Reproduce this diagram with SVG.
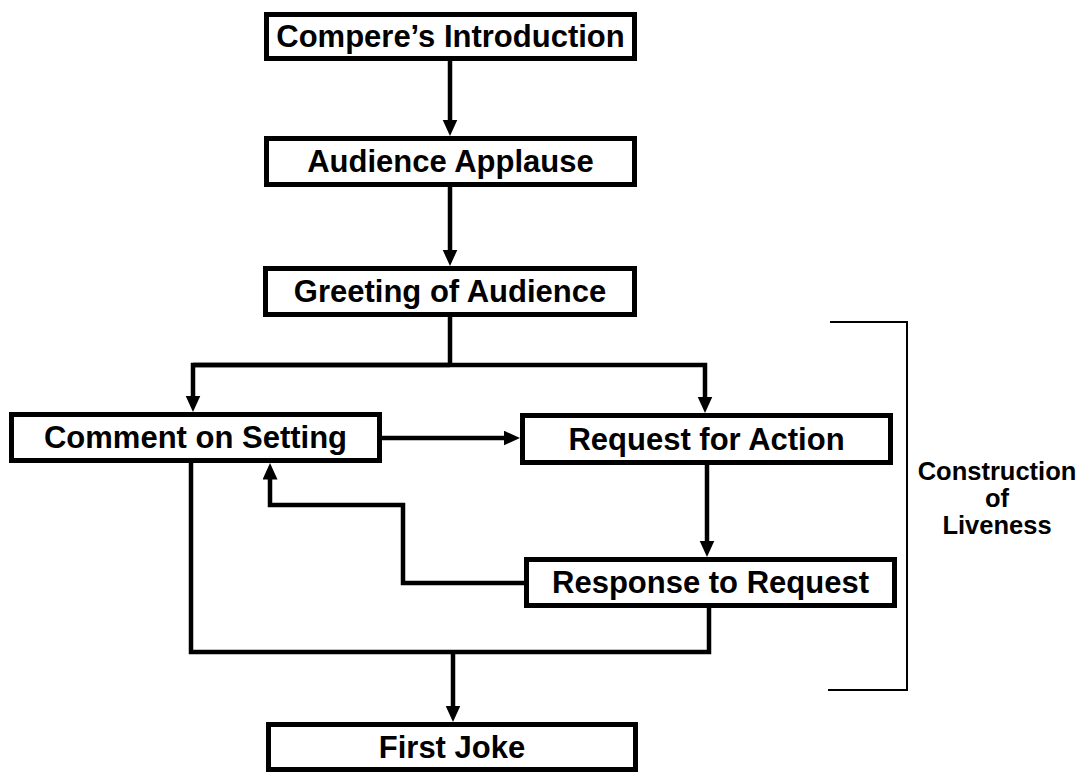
<svg xmlns="http://www.w3.org/2000/svg" width="1085" height="772" viewBox="0 0 1085 772">
  <style>
    .box { fill: #fff; stroke: #000; stroke-width: 5; }
    .lbl { font-family: "Liberation Sans", Arial, sans-serif; font-weight: bold; font-size: 31px; fill: #000; text-anchor: middle; }
    .side { font-family: "Liberation Sans", Arial, sans-serif; font-weight: bold; font-size: 25.5px; fill: #000; text-anchor: middle; }
    .conn { fill: none; stroke: #000; stroke-width: 4.5; stroke-linejoin: miter; }
    .arr { marker-end: url(#ah); }
    .brk { fill: none; stroke: #000; stroke-width: 2; }
  </style>
  <defs>
    <marker id="ah" markerUnits="userSpaceOnUse" markerWidth="18" markerHeight="16" refX="6" refY="7.5" orient="auto">
      <path d="M0,0 L16.5,7.5 L0,15 Z" fill="#000"/>
    </marker>
  </defs>
  <rect width="1085" height="772" fill="#fff"/>

  <g id="connectors">
    <path class="conn arr" d="M450,61 V125.5"/>
    <path class="conn arr" d="M450,187 V255.5"/>
    <path class="conn" d="M450,317 V365"/>
    <path class="conn arr" d="M193,365 H705 V402.5"/>
    <path class="conn arr" d="M450,365 H193 V401.5"/>
    <path class="conn arr" d="M382,438 H509.5"/>
    <path class="conn arr" d="M707,465 V546.5"/>
    <path class="conn arr" d="M524,583 H403 V505 H270 V473.5"/>
    <path class="conn" d="M191,463 V652 H709 V608"/>
    <path class="conn arr" d="M453,652 V711.5"/>
  </g>

  <g id="bracket">
    <polyline class="brk" points="830,322 907,322 907,690 828,690"/>
    <text class="side" x="997" y="480">Construction</text>
    <text class="side" x="997" y="507">of</text>
    <text class="side" x="997" y="534">Liveness</text>
  </g>

  <g id="n-compere">
    <rect class="box" x="266.5" y="14.5" width="368" height="44"/>
    <text class="lbl" x="450.5" y="47">Compere’s Introduction</text>
  </g>
  <g id="n-applause">
    <rect class="box" x="266.5" y="138.5" width="368" height="46"/>
    <text class="lbl" x="450.5" y="172">Audience Applause</text>
  </g>
  <g id="n-greeting">
    <rect class="box" x="265.5" y="268.5" width="369" height="46"/>
    <text class="lbl" x="450" y="302">Greeting of Audience</text>
  </g>
  <g id="n-comment">
    <rect class="box" x="11.5" y="414.5" width="368" height="46"/>
    <text class="lbl" x="195.5" y="448">Comment on Setting</text>
  </g>
  <g id="n-request">
    <rect class="box" x="522.5" y="415.5" width="368" height="47"/>
    <text class="lbl" x="706.5" y="450">Request for Action</text>
  </g>
  <g id="n-response">
    <rect class="box" x="526.5" y="559.5" width="368" height="46"/>
    <text class="lbl" x="710.5" y="593">Response to Request</text>
  </g>
  <g id="n-firstjoke">
    <rect class="box" x="268.5" y="724.5" width="367" height="45"/>
    <text class="lbl" x="452" y="758">First Joke</text>
  </g>
</svg>
